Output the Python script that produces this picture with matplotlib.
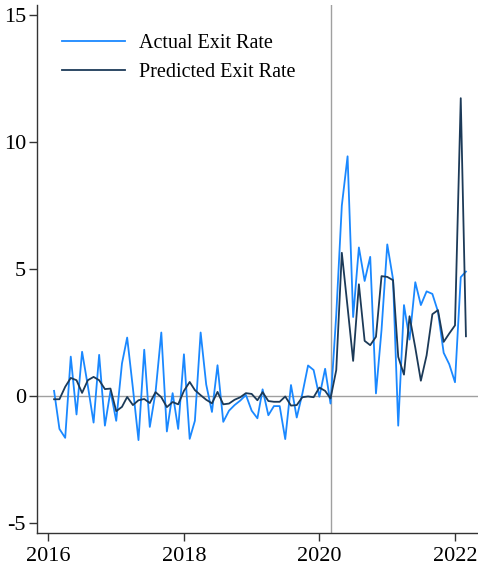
import pandas as pd
import matplotlib
matplotlib.use('Agg')
import matplotlib.pyplot as plt
import matplotlib.dates as mdates

plt.rcParams['font.family'] = ['Liberation Serif', 'DejaVu Serif']
plt.rcParams['axes.unicode_minus'] = False

# monthly, Feb 2016 .. Mar 2022
months = pd.date_range('2016-02-01', '2022-03-01', freq='MS')

actual = [0.2, -1.3, -1.65, 1.55, -0.73, 1.74, 0.4, -1.05, 1.62, -1.17,
          0.2, -0.98, 1.28, 2.3, 0.3, -1.74, 1.82, -1.22, 0.15, 2.5,
          -1.4, 0.11, -1.3, 1.64, -1.69, -0.98, 2.5, 0.45, -0.63, 1.21,
          -1.02, -0.58, -0.36, -0.18, 0.04, -0.58, -0.88, 0.26, -0.76, -0.4,
          -0.4, -1.7, 0.43, -0.85, 0.08, 1.2, 1.02, -0.03, 1.07, -0.3,
          3.2, 7.5, 9.44, 3.11, 5.85, 4.53, 5.48, 0.1, 2.6, 5.97,
          4.6, -1.17, 3.58, 2.22, 4.48, 3.58, 4.12, 4.02, 3.33, 1.7,
          1.25, 0.54, 4.68, 4.9]

predicted = [-0.13, -0.13, 0.36, 0.71, 0.62, 0.12, 0.62, 0.75, 0.62, 0.27,
             0.29, -0.6, -0.43, -0.04, -0.36, -0.17, -0.12, -0.28, 0.15, -0.05,
             -0.44, -0.24, -0.33, 0.2, 0.55, 0.23, 0.03, -0.15, -0.29, 0.16,
             -0.33, -0.3, -0.15, -0.05, 0.11, 0.08, -0.17, 0.15, -0.2, -0.23,
             -0.23, -0.02, -0.38, -0.36, -0.05, -0.02, -0.05, 0.33, 0.2, -0.1,
             1.02, 5.64, 3.5, 1.38, 4.4, 2.17, 2.0, 2.33, 4.72, 4.69,
             4.56, 1.54, 0.84, 3.14, 1.9, 0.6, 1.6, 3.22, 3.38, 2.13,
             2.46, 2.78, 11.73, 2.35]

covid_start = pd.Timestamp('2020-03-01')

fig = plt.figure(figsize=(4.78, 5.65), dpi=100)
ax = fig.add_axes([0.0774, 0.0566, 0.9226, 0.9345])

ax.axhline(0, color='#a0a0a0', lw=1.0, zorder=1)
ax.axvline(covid_start, color='#a0a0a0', lw=1.0, zorder=1)

ax.plot(months, actual, color='#1a88ff', lw=1.3, label='Actual Exit Rate', zorder=2)
ax.plot(months, predicted, color='#1c3a58', lw=1.3, label='Predicted Exit Rate', zorder=3)

ax.set_xlim(pd.Timestamp('2015-11-01'), pd.Timestamp('2022-05-05'))
ax.set_ylim(-5.4, 15.4)
ax.set_yticks([-5, 0, 5, 10, 15])
ax.xaxis.set_major_locator(mdates.YearLocator(2))
ax.xaxis.set_major_formatter(mdates.DateFormatter('%Y'))

for s in ['top', 'right']:
    ax.spines[s].set_visible(False)
for s in ['left', 'bottom']:
    ax.spines[s].set_color('#333333')
    ax.spines[s].set_linewidth(1.0)

ax.tick_params(axis='both', direction='out', length=6, width=1.0,
               color='#333333', labelsize=16, pad=2)
ax.tick_params(axis='x', pad=4)

ax.legend(loc='upper left', frameon=False, fontsize=14.5,
          handlelength=3.1, handletextpad=0.7, labelspacing=0.5,
          bbox_to_anchor=(0.03, 0.969), borderaxespad=0.2)

fig.savefig('out.png', dpi=100)
